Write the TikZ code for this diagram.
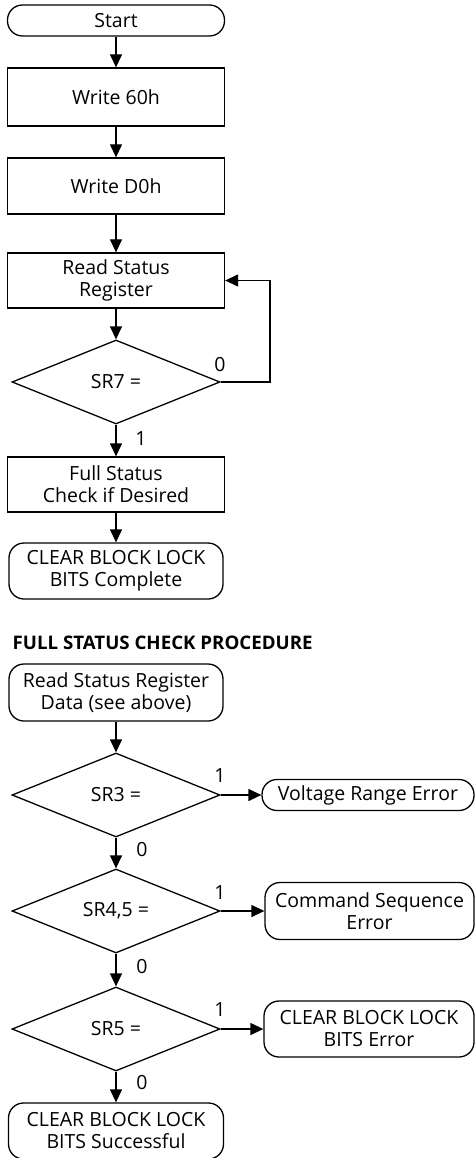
\documentclass[tikz,border=0pt]{standalone}
\usepackage{fontspec}
\setmainfont{Open Sans}
\usetikzlibrary{arrows.meta,shapes.geometric}
\begin{document}
\begin{tikzpicture}[x=1pt,y=-1pt,
  every node/.style={font=\fontsize{19.5}{22}\selectfont, align=center, inner sep=0pt, line width=1.3pt},
  box/.style={draw, rectangle, minimum width=217pt, minimum height=56pt},
  term/.style={draw, rectangle, rounded corners=15pt, minimum height=56pt},
  dec/.style={draw, diamond, aspect=2.48, minimum width=208pt, minimum height=84pt},
  arr/.style={-{Triangle[length=13pt,width=12pt]}, line width=1.3pt},
  lbl/.style={font=\fontsize{19.5}{22}\selectfont}]
\useasboundingbox (0,0) rectangle (475,1158);
\node[term, minimum width=217pt, minimum height=31pt] (start) at (116,20.5) {Start};
\node[box, minimum height=58pt] (w60) at (116,97) {Write 60h};
\node[box] (wd0) at (116,186) {Write D0h};
\node[box, minimum height=55pt] (rsr) at (116,280.5) {Read Status\\Register};
\node[dec] (sr7) at (116,382) {SR7 =};
\node[box, minimum height=55pt] (fsc) at (116,484.5) {Full Status\\Check if Desired};
\node[term, minimum width=214pt] (done) at (116,571) {CLEAR BLOCK LOCK\\BITS Complete};
\node[anchor=west, font=\bfseries\fontsize{18.7}{22}\selectfont] (title) at (12,643) {FULL STATUS CHECK PROCEDURE};
\node[term, minimum width=214pt, minimum height=57pt] (rsd) at (116,692.5) {Read Status Register\\Data (see above)};
\node[dec] (sr3) at (116,795) {SR3 =};
\node[dec] (sr45) at (116,911) {SR4,5 =};
\node[dec] (sr5) at (116,1029) {SR5 =};
\node[term, minimum width=215pt] (ok) at (116,1131) {CLEAR BLOCK LOCK\\BITS Successful};
\node[term, minimum width=212pt, minimum height=31pt] (vre) at (368,795) {Voltage Range Error};
\node[term, minimum width=209pt, minimum height=57pt] (cse) at (369.5,911) {Command Sequence\\Error};
\node[term, minimum width=210pt] (cbe) at (369,1029) {CLEAR BLOCK LOCK\\BITS Error};
% labels
\node[lbl] (l7a) at (220,365) {0};
\node[lbl] (l7b) at (141,439) {1};
\node[lbl] (l3a) at (220,776) {1};
\node[lbl] (l3b) at (142,850) {0};
\node[lbl] (l45a) at (220,893) {1};
\node[lbl] (l45b) at (142,967) {0};
\node[lbl] (l5a) at (220,1010) {1};
\node[lbl] (l5b) at (142,1083) {0};
% connectors
\draw[arr] (start) -- (w60);
\draw[arr] (w60) -- (wd0);
\draw[arr] (wd0) -- (rsr);
\draw[arr] (rsr) -- (sr7);
\draw[arr] (sr7) -- (fsc);
\draw[arr] (fsc) -- (done);
\coordinate (loop) at (270,382);
\draw[arr] (sr7.east) -- (loop) |- (rsr.east);
\draw[arr] (rsd) -- (sr3);
\draw[arr] (sr3) -- (sr45);
\draw[arr] (sr45) -- (sr5);
\draw[arr] (sr5) -- (ok);
\draw[arr] (sr3.east) -- (vre.west);
\draw[arr] (sr45.east) -- (cse.west);
\draw[arr] (sr5.east) -- (cbe.west);
\end{tikzpicture}
\end{document}
